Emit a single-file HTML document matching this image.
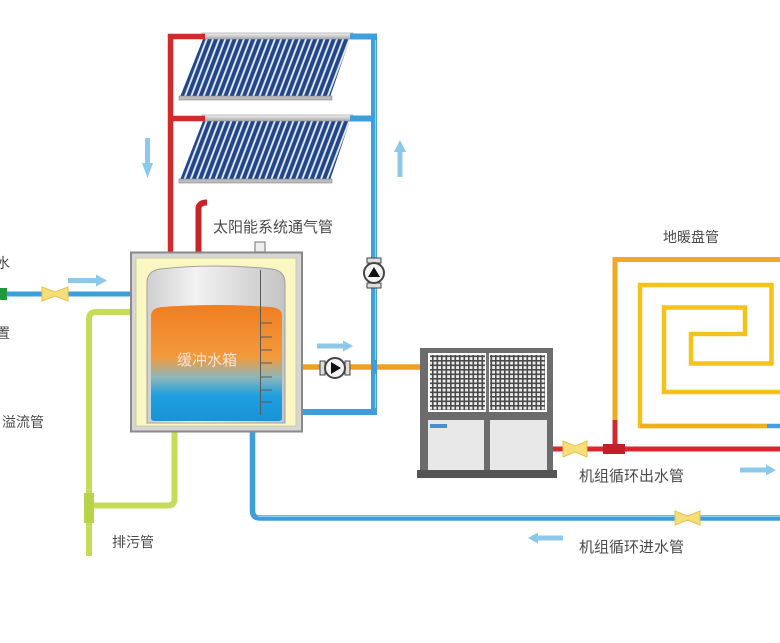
<!DOCTYPE html>
<html><head><meta charset="utf-8"><style>
html,body{margin:0;padding:0;background:#fff;}
svg{display:block;}
text{font-family:"Liberation Sans","Noto Sans CJK SC",sans-serif;}
</style></head><body>
<svg width="780" height="643" viewBox="0 0 780 643" xmlns="http://www.w3.org/2000/svg">
<defs>
  <pattern id="tubes" width="6.2" height="20" patternUnits="userSpaceOnUse" patternTransform="skewX(-20.8)">
    <rect x="0" y="0" width="6.2" height="20" fill="#23458a"/>
    <rect x="3.6" y="0" width="2" height="20" fill="#e4edf9"/>
  </pattern>
  <pattern id="mesh" width="4.5" height="4.5" patternUnits="userSpaceOnUse">
    <rect width="4.5" height="4.5" fill="#ececec"/>
    <rect x="0" y="0" width="4.5" height="1.6" fill="#4a4a4a"/>
    <rect x="0" y="0" width="1.6" height="4.5" fill="#4a4a4a"/>
  </pattern>
  <linearGradient id="water" x1="0" y1="0" x2="0" y2="1">
    <stop offset="0" stop-color="#f07e22"/>
    <stop offset="0.45" stop-color="#f39a3c"/>
    <stop offset="0.62" stop-color="#8fb6b8"/>
    <stop offset="0.78" stop-color="#1fa0e0"/>
    <stop offset="1" stop-color="#1a92d6"/>
  </linearGradient>
  <linearGradient id="cyl" x1="0" y1="0" x2="1" y2="0">
    <stop offset="0" stop-color="#cfcfcf"/>
    <stop offset="0.35" stop-color="#f2f2f2"/>
    <stop offset="1" stop-color="#c4c4c4"/>
  </linearGradient>
  <linearGradient id="hdr" x1="0" y1="0" x2="0" y2="1">
    <stop offset="0" stop-color="#f4f4f4"/>
    <stop offset="1" stop-color="#a8a8a8"/>
  </linearGradient>
</defs>

<!-- ===== Solar panels ===== -->
<polygon points="203,39 350,39 330,97 180,97" fill="url(#tubes)"/>
<rect x="202" y="33" width="151" height="6" fill="url(#hdr)" stroke="#999" stroke-width="0.6"/>
<rect x="179" y="96" width="153" height="4" fill="#bbb" stroke="#888" stroke-width="0.6"/>
<polygon points="203,121 350,121 330,180 180,180" fill="url(#tubes)"/>
<rect x="202" y="115" width="151" height="6" fill="url(#hdr)" stroke="#999" stroke-width="0.6"/>
<rect x="179" y="179" width="153" height="4" fill="#bbb" stroke="#888" stroke-width="0.6"/>

<!-- red collector pipes -->
<path d="M170.5,252 L170.5,36.5 L205,36.5" fill="none" stroke="#d22a2c" stroke-width="5.5"/>
<path d="M170.5,118.5 L205,118.5" fill="none" stroke="#d22a2c" stroke-width="5.5"/>
<!-- vent pipe -->
<path d="M198.5,253 L198.5,209 Q198.5,202.5 207,202.5" fill="none" stroke="#c8222a" stroke-width="6"/>

<!-- blue collector pipes -->
<path d="M350,36.5 L374,36.5 L374,412 L302,412" fill="none" stroke="#3c9fdc" stroke-width="6"/>
<path d="M350,118.5 L374,118.5" fill="none" stroke="#3c9fdc" stroke-width="6"/>
<path d="M375.5,40 L375.5,408" fill="none" stroke="#8ecff2" stroke-width="1.2"/>

<!-- flow arrows near collectors -->
<path d="M145,138 L150,138 L150,163 L153,163 L147.5,178 L142,163 L145,163 Z" fill="#8cc8ea"/>
<path d="M400,140 L406,152 L402.5,152 L402.5,177 L397.5,177 L397.5,152 L394,152 Z" fill="#8cc8ea"/>

<!-- orange supply to heat pump -->
<path d="M302,367 L421,367" fill="none" stroke="#f0a020" stroke-width="5.5"/>
<path d="M374,360 L374,374" fill="none" stroke="#3c9fdc" stroke-width="6"/>

<!-- left inlet -->
<path d="M0,294 L131,294" fill="none" stroke="#3c9fdc" stroke-width="5"/>
<rect x="0" y="288" width="7" height="12" fill="#1e9a3a"/>
<path d="M42,287 L55,292 L68,287 L68,301 L55,296 L42,301 Z" fill="#f6df78" stroke="#e6c24a" stroke-width="1"/>
<path d="M68,278 L96,278 L96,274.5 L107,280.5 L96,286.5 L96,283 L68,283 Z" fill="#8cc8ea"/>

<!-- green overflow / drain -->
<path d="M131,312 L96,312 Q89,312 89,319 L89,556" fill="none" stroke="#c4dc58" stroke-width="6"/>
<path d="M174.5,432 L174.5,499 Q174.5,505.5 168,505.5 L89,505.5" fill="none" stroke="#c4dc58" stroke-width="6"/>
<rect x="84" y="493" width="10" height="30" fill="#b8d24a"/>

<!-- blue return from tank bottom -->
<path d="M252.5,432 L252.5,511 Q252.5,518 260,518 L780,518" fill="none" stroke="#3c9fdc" stroke-width="5.5"/>
<path d="M258,516.5 L780,516.5" fill="none" stroke="#8ecff2" stroke-width="1"/>
<path d="M675,511 L687.5,516 L700,511 L700,525 L687.5,520 L675,525 Z" fill="#f6df78" stroke="#e6c24a" stroke-width="1"/>

<!-- ===== Tank ===== -->
<rect x="131" y="252.5" width="171" height="179" fill="#d6d6d6" stroke="#8a8a8a" stroke-width="2"/>
<rect x="136" y="258" width="160" height="168" fill="#fbf7c2" stroke="#c9c69a" stroke-width="0.8"/>
<path d="M147,423 L147,283 Q147,271 160,269 Q216,263 272,269 Q285,271 285,283 L285,423 Z" fill="url(#cyl)" stroke="#a0a0a0" stroke-width="1"/>
<path d="M151,418 L151,316 Q151,308 162,307 Q216,303 271,307 Q282,308 282,316 L282,418 Q282,421 278,421 L155,421 Q151,421 151,418 Z" fill="url(#water)"/>
<rect x="255" y="242" width="10" height="10" fill="#eee" stroke="#888" stroke-width="1.2"/>
<line x1="260.5" y1="270" x2="260.5" y2="415" stroke="#5a5a5a" stroke-width="1"/>
<g stroke="#5a5a5a" stroke-width="1">
<line x1="260" y1="323" x2="272" y2="323"/>
<line x1="260" y1="337" x2="272" y2="337"/>
<line x1="260" y1="350" x2="272" y2="350"/>
<line x1="260" y1="363" x2="272" y2="363"/>
<line x1="260" y1="377" x2="272" y2="377"/>
<line x1="260" y1="390" x2="272" y2="390"/>
<line x1="260" y1="402" x2="272" y2="402"/>
</g>
<text x="177" y="365" font-size="15" fill="#f6e2d6">缓冲水箱</text>

<!-- pumps -->
<g>
  <rect x="320" y="361" width="5" height="14" fill="#ddd" stroke="#444" stroke-width="1"/>
  <rect x="345" y="361" width="5" height="14" fill="#ddd" stroke="#444" stroke-width="1"/>
  <circle cx="335" cy="368" r="10" fill="#f4f4f4" stroke="#444" stroke-width="2"/>
  <path d="M331,362 L341,368 L331,374 Z" fill="#111"/>
</g>
<g>
  <rect x="367" y="258" width="14" height="5" fill="#ddd" stroke="#444" stroke-width="1"/>
  <rect x="367" y="283" width="14" height="5" fill="#ddd" stroke="#444" stroke-width="1"/>
  <circle cx="374" cy="273" r="10" fill="#f4f4f4" stroke="#444" stroke-width="2"/>
  <path d="M368,277 L374,267 L380,277 Z" fill="#111"/>
</g>
<path d="M317,343.5 L343,343.5 L343,340.5 L353,346 L343,351.5 L343,348.5 L317,348.5 Z" fill="#8cc8ea"/>

<!-- ===== Heat pump unit ===== -->
<rect x="420" y="348" width="133" height="125" fill="#6c6c6c"/>
<rect x="428" y="353" width="119" height="59" fill="#fff"/>
<rect x="430" y="355" width="55" height="55" fill="url(#mesh)"/>
<rect x="490" y="355" width="55" height="55" fill="url(#mesh)"/>
<rect x="486" y="353" width="3" height="59" fill="#777"/>
<rect x="428" y="420" width="56" height="50" fill="#e8e8e8"/>
<rect x="490" y="420" width="57" height="50" fill="#e8e8e8"/>
<rect x="430" y="424" width="17" height="4" fill="#4a8fd0"/>
<rect x="417" y="470" width="140" height="8" fill="#555"/>

<!-- red outlet -->
<path d="M553,449 L780,449" fill="none" stroke="#d8282e" stroke-width="5"/>
<path d="M563,441 L575,446 L587,441 L587,457 L575,452 L563,457 Z" fill="#f6df78" stroke="#e6c24a" stroke-width="1"/>

<!-- ===== Floor heating coil ===== -->
<path d="M615,421 L615,259.5 L780,259.5" fill="none" stroke="#efaa22" stroke-width="5"/>
<path d="M615,420 L615,449" fill="none" stroke="#d02a30" stroke-width="5"/>
<rect x="603" y="444" width="22" height="10" fill="#c0202a"/>
<path d="M780,392 L664,392 L664,307.5 L745,307.5 L745,334 L691,334 L691,363.5 L771.5,363.5 L771.5,285 L640,285 L640,426 L767,426" fill="none" stroke="#f4c31a" stroke-width="4.5"/>
<path d="M640,426 L767,426" fill="none" stroke="#efae22" stroke-width="4.5"/>
<path d="M767,426 L780,426" fill="none" stroke="#4a9ee0" stroke-width="4.5"/>

<!-- flow arrows bottom -->
<path d="M740,467.5 L766,467.5 L766,464.5 L776,470 L766,475.5 L766,472.5 L740,472.5 Z" fill="#8cc8ea"/>
<path d="M563,535.5 L538,535.5 L538,532.5 L528,538 L538,543.5 L538,540.5 L563,540.5 Z" fill="#8cc8ea"/>

<!-- ===== Labels ===== -->
<g fill="#4a4a4a" font-size="14">
<text x="-4" y="268">水</text>
<text x="-4" y="338">置</text>
<text x="2" y="427">溢流管</text>
<text x="112" y="547">排污管</text>
<text x="213" y="232" font-size="15">太阳能系统通气管</text>
<text x="663" y="242">地暖盘管</text>
<text x="579" y="481" font-size="15">机组循环出水管</text>
<text x="579" y="552" font-size="15">机组循环进水管</text>
</g>
</svg>
</body></html>
